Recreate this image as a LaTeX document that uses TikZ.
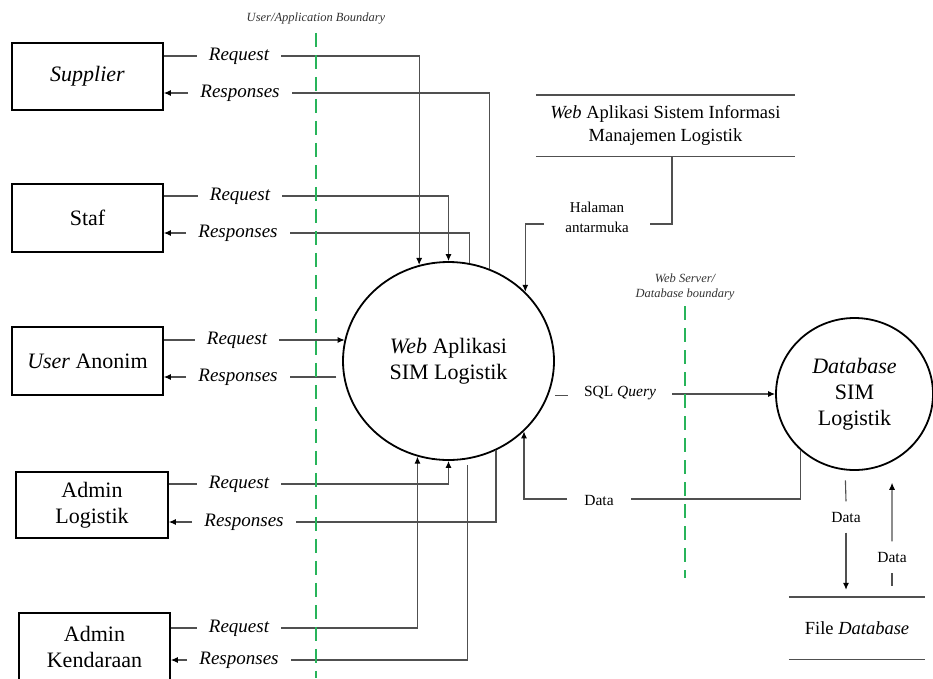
\documentclass[tikz,border=0pt]{standalone}
\usepackage{fontspec}
\setmainfont{Liberation Serif}
\usetikzlibrary{arrows.meta,shapes.geometric}
\definecolor{bgreen}{RGB}{40,180,90}
\definecolor{flowgray}{RGB}{80,80,80}
\begin{document}
\begin{tikzpicture}[x=1pt,y=-1pt,
  ent/.style={draw=black, line width=1.6pt, minimum width=151pt, minimum height=67pt, inner sep=0pt, align=center, font=\fontsize{22}{26}\selectfont},
  proc/.style={ellipse, draw=black, line width=1.8pt, inner sep=0pt, align=center, font=\fontsize{22}{26}\selectfont},
  lbl/.style={inner xsep=12pt, inner ysep=0pt, font=\fontsize{19}{22}\selectfont\itshape},
  slbl/.style={inner ysep=0pt, inner xsep=0pt, font=\fontsize{15.5}{20}\selectfont, align=center},
  flow/.style={draw=flowgray, line width=1.1pt},
  arr/.style={flow, -{Latex[length=7pt,width=6pt,color=black]}},
  bound/.style={draw=bgreen, line width=2.4pt, dash pattern=on 14pt off 8pt},
  blbl/.style={font=\fontsize{12.5}{15}\selectfont\itshape, text=black!80, align=center, inner sep=0pt},
  storeline/.style={draw=flowgray, line width=1.4pt}
]
\useasboundingbox (0,0) rectangle (933,678);

% external entities
\node[ent] (sup) at (87.5,76.5) {\textit{Supplier}};
\node[ent, minimum height=68pt] (staf) at (87.5,218) {Staf};
\node[ent, minimum height=68pt] (anon) at (87.5,361) {\textit{User} Anonim};
\node[ent, minimum width=152pt, minimum height=66pt] (alog) at (92,505) {Admin\\Logistik};
\node[ent] (aken) at (94.5,646.5) {Admin\\Kendaraan};

% processes
\node[proc, minimum width=211pt, minimum height=198pt] (web) at (448.5,361) {\textit{Web} Aplikasi\\SIM Logistik};
\node[proc, minimum width=157pt, minimum height=152pt] (db) at (854.5,394) {\textit{Database}\\SIM\\Logistik};

% data stores
\node[minimum width=259pt, minimum height=61pt, inner sep=0pt, align=center, font=\fontsize{18.5}{23}\selectfont] (wst) at (665.5,125.5) {\textit{Web} Aplikasi Sistem Informasi\\Manajemen Logistik};
\draw[storeline] (wst.north west) -- (wst.north east) (wst.south west) -- (wst.south east);
\node[minimum width=136pt, minimum height=62pt, inner sep=0pt, font=\fontsize{18.5}{22}\selectfont] (fdb) at (857,628) {File \textit{Database}};
\draw[storeline] (fdb.north west) -- (fdb.north east) (fdb.south west) -- (fdb.south east);

% flow labels
\node[lbl] (q1) at (239,56) {Request};
\node[lbl] (r1) at (240,93) {Responses};
\node[lbl] (q2) at (240,196) {Request};
\node[lbl] (r2) at (238,233) {Responses};
\node[lbl] (q3) at (237,340) {Request};
\node[lbl] (r3) at (238,377) {Responses};
\node[lbl] (q4) at (239,484) {Request};
\node[lbl] (r4) at (244,522) {Responses};
\node[lbl] (q5) at (239,628) {Request};
\node[lbl] (r5) at (239,660) {Responses};
\node[slbl, inner xsep=21pt, font=\fontsize{15}{20}\selectfont] (hal) at (597,217) {Halaman\\antarmuka};
\node[slbl, inner xsep=16pt] (sql) at (620,393) {SQL \textit{Query}};
\node[slbl, inner xsep=17pt] (dat) at (599,500) {Data};
\node[slbl, minimum height=31pt] (d1) at (846,517) {Data};
\node[slbl, minimum height=31pt] (d2) at (892,557) {Data};
\coordinate (hy) at (0,224);
\coordinate (dy) at (0,499);

% Supplier
\draw[flow] (sup.east |- q1) -- (q1.west);
\draw[arr] (q1.east) -| (web.107.8);
\draw[flow] (web.66.1) |- (r1.east);
\draw[arr] (r1.west) -- (sup.east |- r1);
% Staf
\draw[flow] (staf.east |- q2) -- (q2.west);
\draw[arr] (q2.east) -| (web.north);
\draw[flow] (web.78.67) |- (r2.east);
\draw[arr] (r2.west) -- (staf.east |- r2);
% User Anonim
\draw[flow] (anon.east |- q3) -- (q3.west);
\draw[arr] (q3.east) -- (q3.east -| web.168.5);
\draw[flow, shorten <=7pt] (r3.east -| web.188.7) -- (r3.east);
\draw[arr] (r3.west) -- (anon.east |- r3);
% Admin Logistik
\draw[flow] (alog.east |- q4) -- (q4.west);
\draw[arr] (q4.east) -| (web.south);
\draw[flow] (web.298.9) |- (r4.east);
\draw[arr] (r4.west) -- (alog.east |- r4);
% Admin Kendaraan
\draw[flow] (aken.east |- q5) -- (q5.west);
\draw[arr] (q5.east) -| (web.252.2);
\draw[flow, shorten <=6pt] (web.281.3) |- (r5.east);
\draw[arr] (r5.west) -- (aken.east |- r5);

% Halaman antarmuka
\draw[flow] (wst.south -| 672,0) |- (hal.east |- hy);
\draw[arr] (hal.west |- hy) -| (web.42.5);

% SQL Query
\draw[flow, shorten <=7pt] (web.341.65) -- (web.341.65 -| sql.west);
\draw[arr] (sql.east |- db.west) -- (db.west);

% Data back to web
\draw[flow] (db.226.1) |- (dat.east |- dy);
\draw[arr] (dat.west |- dy) -| (web.317.5);

% Data to/from file database
\draw[flow, shorten <=10pt] (db.263.6) -- (d1.north);
\draw[arr, shorten >=7pt] (d1.south) -- (d1.south |- fdb.north);
\draw[flow, shorten <=11pt] (d2.south |- fdb.north) -- (d2.south);
\draw[arr, shorten >=21pt] (d2.north) -- (db.299.3);

% boundaries
\node[blbl] (ub) at (316,19) {User/Application Boundary};
\draw[bound, shorten <=8pt] (ub.south) -- (ub.south |- 0,678);
\node[blbl] (wb) at (685,287) {Web Server/\\Database boundary};
\draw[bound, shorten <=6pt] (wb.south) -- (wb.south |- 0,578);
\end{tikzpicture}
\end{document}
